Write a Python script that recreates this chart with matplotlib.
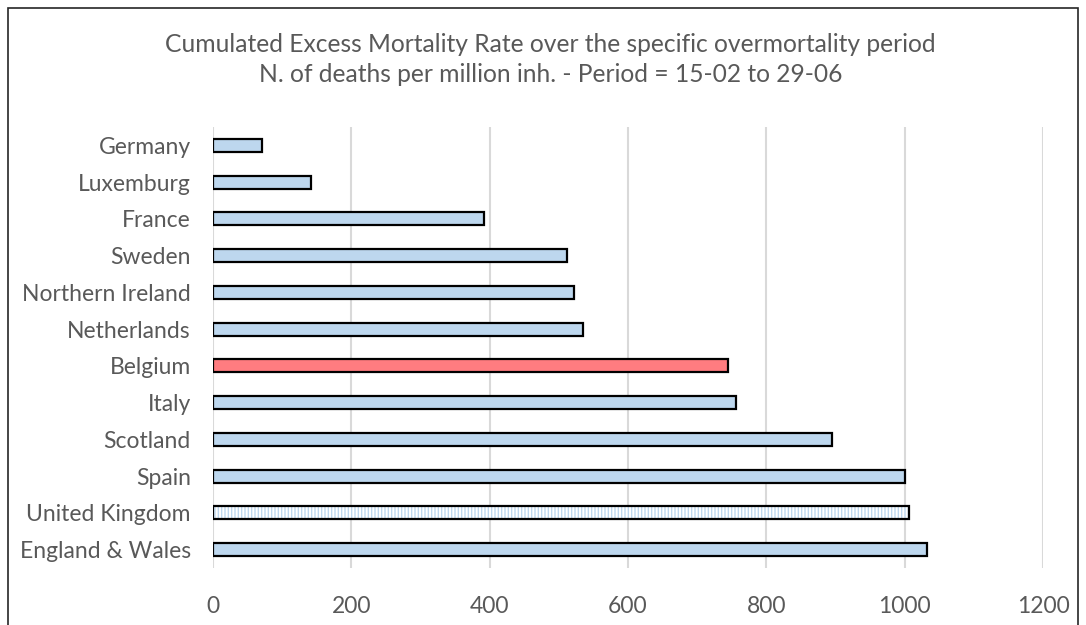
import matplotlib.pyplot as plt
from matplotlib.patches import Rectangle

plt.rcParams['font.family'] = ['Lato', 'DejaVu Sans']

countries = ['England & Wales', 'United Kingdom', 'Spain', 'Scotland', 'Italy',
             'Belgium', 'Netherlands', 'Northern Ireland', 'Sweden', 'France',
             'Luxemburg', 'Germany']
deaths_per_million = [1033, 1006, 1000, 895, 756, 745, 535, 522, 512, 392, 142, 71]
x_ticks = [0, 200, 400, 600, 800, 1000, 1200]

blue = '#bdd7ee'
red = '#ff7c80'
grey_text = '#595959'

fig = plt.figure(figsize=(10.86, 6.25), dpi=100)
ax = fig.add_axes([0.1961, 0.0912, 0.7643, 0.7056])

pos = list(range(len(countries)))
for i, (name, val) in enumerate(zip(countries, deaths_per_million)):
    if name == 'United Kingdom':
        # striped fill, then a plain black outline on top
        ax.barh(i, val, height=0.36, color='white', edgecolor=blue,
                hatch='|||||', linewidth=0, zorder=3)
        ax.barh(i, val, height=0.36, facecolor='none', edgecolor='black',
                linewidth=1.6, zorder=4)
    else:
        c = red if name == 'Belgium' else blue
        ax.barh(i, val, height=0.36, color=c, edgecolor='black',
                linewidth=1.6, zorder=3)

ax.set_xlim(0, 1200)
ax.set_ylim(-0.5, len(countries) - 0.5)
ax.set_xticks(x_ticks)
ax.set_xticklabels([str(t) for t in x_ticks])
ax.set_yticks(pos)
ax.set_yticklabels(countries)
ax.grid(axis='x', color='#d9d9d9', linewidth=1.5, zorder=0)
for s in ax.spines.values():
    s.set_visible(False)
ax.tick_params(axis='both', length=0, labelsize=16.5, labelcolor=grey_text)
ax.tick_params(axis='y', pad=16)
ax.tick_params(axis='x', pad=20)

fig.text(0.507, 0.928, 'Cumulated Excess Mortality Rate over the specific overmortality period',
         ha='center', va='center', fontsize=17.7, color=grey_text)
fig.text(0.507, 0.88, 'N. of deaths per million inh. - Period = 15-02 to 29-06',
         ha='center', va='center', fontsize=17.7, color=grey_text)

# chart border
fig.patches.append(Rectangle((8 / 1086, -0.05), 1070 / 1086, 1 - 8 / 625 + 0.05,
                             transform=fig.transFigure, fill=False,
                             edgecolor='#262626', linewidth=1.2))

fig.savefig('out.png', dpi=100, facecolor='white')
